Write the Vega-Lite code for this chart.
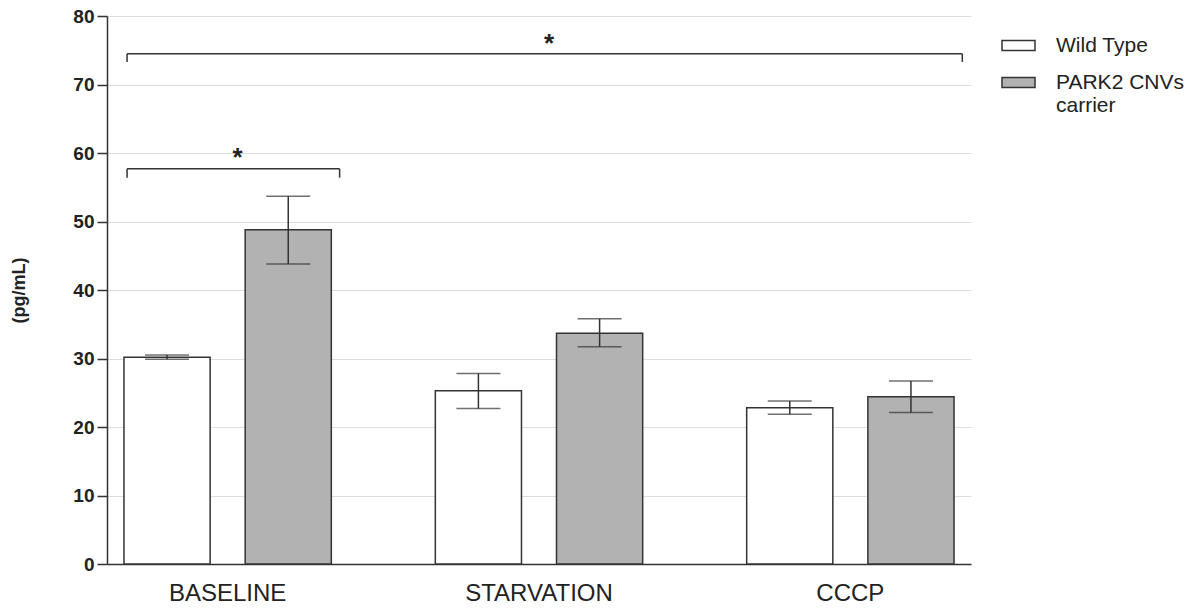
{
  "$schema": "https://vega.github.io/schema/vega-lite/v6.json",
  "autosize": {"type": "none"},
  "padding": {"left": 107, "top": 16, "right": 214, "bottom": 44},
  "width": 864,
  "height": 548,
  "background": "white",
  "config": {
    "view": {"stroke": null},
    "font": "Liberation Sans"
  },
  "datasets": {
    "bars": [
      {"group": "BASELINE", "genotype": "Wild Type", "mean": 30.2, "lo": 29.9, "hi": 30.5},
      {"group": "BASELINE", "genotype": "PARK2 CNVs carrier", "mean": 48.8, "lo": 43.8, "hi": 53.7},
      {"group": "STARVATION", "genotype": "Wild Type", "mean": 25.3, "lo": 22.7, "hi": 27.8},
      {"group": "STARVATION", "genotype": "PARK2 CNVs carrier", "mean": 33.7, "lo": 31.7, "hi": 35.8},
      {"group": "CCCP", "genotype": "Wild Type", "mean": 22.8, "lo": 21.85, "hi": 23.8},
      {"group": "CCCP", "genotype": "PARK2 CNVs carrier", "mean": 24.4, "lo": 22.1, "hi": 26.7}
    ],
    "brackets": [
      {"from": "BASELINE", "to": "BASELINE", "mid": "BASELINE", "y": 57.7, "yTick": 56.4, "yStar": 60.0, "label": "*"},
      {"from": "BASELINE", "to": "CCCP", "mid": "STARVATION", "y": 74.5, "yTick": 73.3, "yStar": 76.6, "label": "*"}
    ]
  },
  "layer": [
    {
      "data": {"name": "bars"},
      "mark": {"type": "bar", "stroke": "#333333", "strokeWidth": 1.5},
      "encoding": {
        "x": {
          "field": "group", "type": "nominal", "sort": null,
          "scale": {"domain": ["BASELINE", "STARVATION", "CCCP"], "paddingInner": 0.334, "paddingOuter": 0.0545},
          "axis": {
            "title": null, "labelAngle": 0, "labelFontSize": 24, "labelColor": "#222222",
            "labelFont": "Liberation Sans", "ticks": false, "labelPadding": 17,
            "domainColor": "#333333", "domainWidth": 1.5, "grid": false
          }
        },
        "xOffset": {
          "field": "genotype", "type": "nominal", "sort": null,
          "scale": {"domain": ["Wild Type", "PARK2 CNVs carrier"], "paddingInner": 0.289, "paddingOuter": 0}
        },
        "y": {
          "field": "mean", "type": "quantitative",
          "scale": {"domain": [0, 80], "nice": false},
          "axis": {
            "title": "(pg/mL)", "titleFontSize": 18, "titleFontWeight": "bold", "titleColor": "#222222",
            "titleFont": "Liberation Sans", "titlePadding": 44,
            "values": [0, 10, 20, 30, 40, 50, 60, 70, 80],
            "labelFontSize": 19, "labelFontWeight": "bold", "labelColor": "#222222", "labelFont": "Liberation Sans",
            "labelPadding": 3, "tickSize": 10, "tickColor": "#333333", "tickWidth": 1.5,
            "domainColor": "#333333", "domainWidth": 1.5,
            "grid": true, "gridColor": "#dddddd", "gridWidth": 1.2
          }
        },
        "fill": {
          "field": "genotype", "type": "nominal",
          "scale": {"domain": ["Wild Type", "PARK2 CNVs carrier"], "range": ["#ffffff", "#b2b2b2"]},
          "legend": {
            "title": null, "orient": "none", "legendX": 894, "legendY": 12,
            "symbolType": "M-1,-0.3H1V0.3H-1Z", "symbolSize": 1089,
            "symbolStrokeColor": "#333333", "symbolStrokeWidth": 1.5,
            "labelFontSize": 21, "labelColor": "#222222", "labelFont": "Liberation Sans",
            "labelOffset": 20, "rowPadding": 9, "labelBaseline": "middle",
            "labelExpr": "datum.label == 'PARK2 CNVs carrier' ? ['PARK2 CNVs', 'carrier'] : datum.label",
            "labelLimit": 300
          }
        }
      }
    },
    {
      "data": {"name": "bars"},
      "mark": {"type": "rule", "color": "#333333", "strokeWidth": 1.5},
      "encoding": {
        "x": {"field": "group", "type": "nominal", "sort": null},
        "xOffset": {"field": "genotype", "type": "nominal", "sort": null},
        "y": {"field": "lo", "type": "quantitative"},
        "y2": {"field": "hi"}
      }
    },
    {
      "data": {"name": "bars"},
      "mark": {"type": "tick", "color": "#333333", "thickness": 1.5, "size": 44, "orient": "horizontal"},
      "encoding": {
        "x": {"field": "group", "type": "nominal", "sort": null},
        "xOffset": {"field": "genotype", "type": "nominal", "sort": null},
        "y": {"field": "lo", "type": "quantitative"}
      }
    },
    {
      "data": {"name": "bars"},
      "mark": {"type": "tick", "color": "#333333", "thickness": 1.5, "size": 44, "orient": "horizontal"},
      "encoding": {
        "x": {"field": "group", "type": "nominal", "sort": null},
        "xOffset": {"field": "genotype", "type": "nominal", "sort": null},
        "y": {"field": "hi", "type": "quantitative"}
      }
    },
    {
      "data": {"name": "brackets"},
      "mark": {"type": "rule", "color": "#333333", "strokeWidth": 1.5},
      "encoding": {
        "x": {"field": "from", "type": "nominal", "sort": null, "bandPosition": 0.015},
        "x2": {"field": "to", "bandPosition": 1.04},
        "y": {"field": "y", "type": "quantitative"}
      }
    },
    {
      "data": {"name": "brackets"},
      "mark": {"type": "rule", "color": "#333333", "strokeWidth": 1.5},
      "encoding": {
        "x": {"field": "from", "type": "nominal", "sort": null, "bandPosition": 0.015},
        "y": {"field": "y", "type": "quantitative"},
        "y2": {"field": "yTick"}
      }
    },
    {
      "data": {"name": "brackets"},
      "mark": {"type": "rule", "color": "#333333", "strokeWidth": 1.5},
      "encoding": {
        "x": {"field": "to", "type": "nominal", "sort": null, "bandPosition": 1.04},
        "y": {"field": "y", "type": "quantitative"},
        "y2": {"field": "yTick"}
      }
    },
    {
      "data": {"name": "brackets"},
      "mark": {"type": "text", "fontSize": 26, "fontWeight": "bold", "color": "#222222", "dx": 10, "dy": 5, "font": "Liberation Sans"},
      "encoding": {
        "x": {"field": "mid", "type": "nominal", "sort": null},
        "y": {"field": "yStar", "type": "quantitative"},
        "text": {"field": "label"}
      }
    }
  ]
}
